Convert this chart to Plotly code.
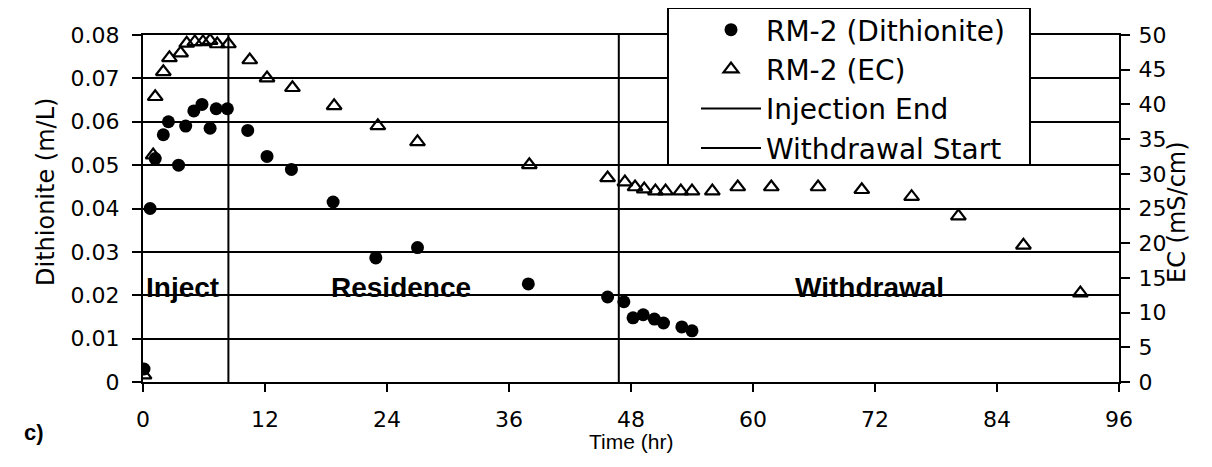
import plotly.graph_objects as go

BLACK = "#000"
WHITE = "#FFF"
FONT = "DejaVu Sans, sans-serif"
BOLD_FONT = "Liberation Sans, Arial, sans-serif"

# Dithionite concentration (m/L) vs time (hr).
dith_time = [0.1, 0.7, 1.2, 2.0, 2.5, 3.5, 4.2, 5.0, 5.8, 6.6, 7.2, 8.3,
             10.3, 12.2, 14.6, 18.7, 22.9, 27.0, 37.9, 45.7, 47.3, 48.2,
             49.2, 50.3, 51.2, 53.0, 54.0]
dith_value = [0.003, 0.040, 0.0515, 0.057, 0.060, 0.050, 0.059, 0.0625,
              0.064, 0.0585, 0.063, 0.063, 0.058, 0.052, 0.049, 0.0415,
              0.0286, 0.031, 0.0226, 0.0196, 0.0185, 0.0148, 0.0155,
              0.0145, 0.0136, 0.0127, 0.0118]

# Electrical conductivity (mS/cm) vs time (hr).
ec_time = [0.1, 1.0, 1.2, 2.0, 2.6, 3.7, 4.3, 5.1, 5.9, 6.6, 7.3, 8.4,
           10.5, 12.2, 14.7, 18.8, 23.1, 27.0, 38.0, 45.7, 47.4, 48.4,
           49.3, 50.4, 51.4, 52.9, 54.0, 56.0, 58.5, 61.8, 66.4, 70.7,
           75.6, 80.2, 86.6, 92.2]
ec_value = [1.0, 32.7, 41.1, 44.7, 46.7, 47.4, 48.8, 49.0, 49.0, 49.2,
            48.7, 48.7, 46.4, 43.8, 42.4, 39.8, 36.9, 34.6, 31.3, 29.4,
            28.8, 28.1, 27.8, 27.5, 27.5, 27.5, 27.5, 27.5, 28.1, 28.1,
            28.1, 27.7, 26.7, 23.9, 19.7, 12.8]

injection_end = [8.4, 8.4]
withdrawal_start = [46.8, 46.8]
marker_span = [0, 0.08]

phase_labels = ["Inject", "Residence", "Withdrawal"]
phase_x = [3.9, 25.4, 71.5]
phase_y = [0.0217, 0.0217, 0.0217]

x_ticks = [0, 12, 24, 36, 48, 60, 72, 84, 96]

fig = go.Figure()
fig.add_trace(go.Scatter(
    x=dith_time, y=dith_value, mode="markers", name="RM-2 (Dithionite)",
    marker=dict(symbol="circle", size=13, color=BLACK),
))
fig.add_trace(go.Scatter(
    x=ec_time, y=ec_value, mode="markers", name="RM-2 (EC)", yaxis="y2",
    marker=dict(symbol="triangle-up-open", size=13, color=BLACK,
                line=dict(width=2.2, color=BLACK)),
))
fig.add_trace(go.Scatter(
    x=injection_end, y=marker_span, mode="lines", name="Injection End",
    line=dict(color=BLACK, width=2),
))
fig.add_trace(go.Scatter(
    x=withdrawal_start, y=marker_span, mode="lines", name="Withdrawal Start",
    line=dict(color=BLACK, width=2),
))

for label, px, py in zip(phase_labels, phase_x, phase_y):
    fig.add_annotation(x=px, y=py, text=f"<b>{label}</b>", showarrow=False,
                       font=dict(family=BOLD_FONT, size=28, color=BLACK))

# Axis titles and panel letter, placed in paper coordinates.
fig.add_annotation(x=-0.1158, y=0.5476, xref="paper", yref="paper",
                   text="Dithionite (m/L)", textangle=-90, showarrow=False,
                   font=dict(family=FONT, size=24, color=BLACK))
fig.add_annotation(x=1.0758, y=0.49, xref="paper", yref="paper",
                   text="EC (mS/cm)", textangle=-90, showarrow=False,
                   font=dict(family=FONT, size=24, color=BLACK))
fig.add_annotation(x=0.5, y=-0.21, xref="paper", yref="paper",
                   text="Time (hr)", showarrow=False,
                   font=dict(family=BOLD_FONT, size=21, color=BLACK))
fig.add_annotation(x=-0.124, y=-0.187, xref="paper", yref="paper",
                   text="<b>c)</b>", showarrow=False,
                   font=dict(family=BOLD_FONT, size=22, color=BLACK))

# White legend box drawn as a shape so its size matches the original.
fig.add_shape(type="rect", xref="paper", yref="paper",
              x0=0.5379, x1=0.9088, y0=0.6254, y1=1.0778,
              fillcolor=WHITE, line=dict(color=BLACK, width=2), layer="above")

# The page body adds an 8px offset, so left/top margins are trimmed by 8.
fig.update_layout(
    width=1212, height=467,
    margin=dict(l=135, r=101, t=27, b=93, autoexpand=False),
    plot_bgcolor=WHITE, paper_bgcolor=WHITE,
    font=dict(family=FONT, size=22, color=BLACK),
    showlegend=True,
    legend=dict(
        x=0.5666, y=1.0865, xanchor="left", yanchor="top",
        bgcolor="rgba(0,0,0,0)", borderwidth=0,
        font=dict(family=FONT, size=28, color=BLACK),
        itemwidth=60, tracegroupgap=0,
    ),
    xaxis=dict(
        range=[0, 96], tickvals=x_ticks, showgrid=False, zeroline=False,
        showline=True, linecolor=BLACK, linewidth=2, mirror=True,
        ticks="outside", ticklen=8, tickwidth=2, tickcolor=BLACK,
        ticklabelstandoff=9,
    ),
    yaxis=dict(
        range=[0, 0.08], dtick=0.01, tickformat="~g",
        showgrid=True, gridcolor=BLACK, gridwidth=2, zeroline=False,
        showline=True, linecolor=BLACK, linewidth=2,
        ticks="outside", ticklen=9, tickwidth=2, tickcolor=BLACK,
        ticklabelstandoff=8,
    ),
    yaxis2=dict(
        range=[0, 50], dtick=5, overlaying="y", side="right",
        showgrid=False, zeroline=False,
        showline=True, linecolor=BLACK, linewidth=2,
        ticks="outside", ticklen=9, tickwidth=2, tickcolor=BLACK,
        ticklabelstandoff=4,
    ),
    yaxis3=dict(
        range=[0, 50], dtick=5, overlaying="y", side="right",
        showgrid=False, zeroline=False, showticklabels=False,
        ticks="inside", ticklen=9, tickwidth=2, tickcolor=BLACK,
    ),
)

fig.write_html("out.html")
